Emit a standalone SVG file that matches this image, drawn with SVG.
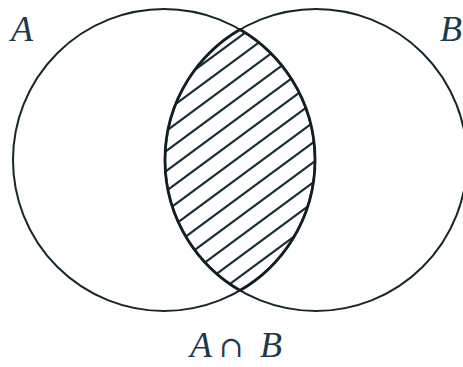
<svg xmlns="http://www.w3.org/2000/svg" width="463" height="367" viewBox="0 0 463 367">
<defs>
<style>
.circ{fill:none;stroke:#17262c;stroke-width:2}
.lens{fill:none;stroke:#111f24;stroke-width:2.8}
.hatch line{stroke:#1a3038;stroke-width:2.2}
.lbl{font-family:"Liberation Serif","DejaVu Serif",serif;font-style:italic;font-size:36px;fill:#1d3a4a}
.op{font-family:"DejaVu Serif","Liberation Serif",serif;font-style:normal;font-size:29px;fill:#1d3a4a}
</style>
<clipPath id="lensClip">
<path d="M240,29.5 A151,151 0 0 1 240,290.5 A151,151 0 0 1 240,29.5 Z"/>
</clipPath>
</defs>
<rect width="463" height="367" fill="#fff"/>
<g id="hatching" class="hatch" clip-path="url(#lensClip)">
<line x1="160" y1="35.7" x2="320" y2="-82.7"/>
<line x1="160" y1="55.7" x2="320" y2="-62.7"/>
<line x1="160" y1="75.7" x2="320" y2="-42.7"/>
<line x1="160" y1="95.7" x2="320" y2="-22.7"/>
<line x1="160" y1="115.7" x2="320" y2="-2.7"/>
<line x1="160" y1="135.7" x2="320" y2="17.3"/>
<line x1="160" y1="155.7" x2="320" y2="37.3"/>
<line x1="160" y1="175.7" x2="320" y2="57.3"/>
<line x1="160" y1="195.7" x2="320" y2="77.3"/>
<line x1="160" y1="215.7" x2="320" y2="97.3"/>
<line x1="160" y1="235.7" x2="320" y2="117.3"/>
<line x1="160" y1="255.7" x2="320" y2="137.3"/>
<line x1="160" y1="275.7" x2="320" y2="157.3"/>
<line x1="160" y1="295.7" x2="320" y2="177.3"/>
<line x1="160" y1="315.7" x2="320" y2="197.3"/>
<line x1="160" y1="335.7" x2="320" y2="217.3"/>
<line x1="160" y1="355.7" x2="320" y2="237.3"/>
<line x1="160" y1="375.7" x2="320" y2="257.3"/>
<line x1="160" y1="395.7" x2="320" y2="277.3"/>
</g>
<g id="setA">
<circle class="circ" cx="164" cy="160" r="151"/>
<text class="lbl" x="11" y="41">A</text>
</g>
<g id="setB">
<circle class="circ" cx="316" cy="160" r="151"/>
<text class="lbl" x="440" y="41">B</text>
</g>
<g id="intersection">
<path class="lens" d="M240,29.5 A151,151 0 0 1 240,290.5 A151,151 0 0 1 240,29.5 Z"/>
<text class="lbl" x="190" y="357">A</text>
<text class="op" x="219" y="357">∩</text>
<text class="lbl" x="260" y="357">B</text>
</g>
</svg>
